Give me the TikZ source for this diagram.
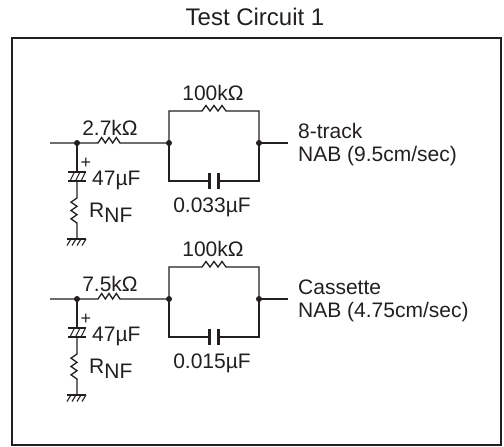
\documentclass[tikz,border=0pt]{standalone}
\usepackage{fontspec}
\setmainfont{Liberation Sans}
\definecolor{ink}{RGB}{35,31,32}
\tikzset{
  wire/.style={draw=ink, line width=1.3pt, line join=miter},
  plate/.style={draw=ink, line width=2.4pt},
  hatch/.style={draw=ink, line width=1.1pt},
  dotnode/.style={circle, fill=ink, inner sep=0pt, minimum size=6pt},
  lbl/.style={font=\fontsize{21}{25}\selectfont, text=ink, inner sep=0pt, anchor=base},
  lbll/.style={lbl, anchor=base west},
  frame/.style={draw=ink, line width=1.5pt},
}
\newcommand{\tcircuit}[6]{%
\begin{scope}[yshift=-#2pt]
  \coordinate (#1in) at (50,143);
  \node[dotnode] (#1j) at (77,143) {};
  \coordinate (#1ra) at (98,143);
  \coordinate (#1rb) at (120,143);
  \node[dotnode] (#1L) at (169,143) {};
  \node[dotnode] (#1R) at (259,143) {};
  \coordinate (#1out) at (288,143);
  \coordinate (#1fa) at (202,111);
  \coordinate (#1fb) at (226,111);
  \coordinate (#1ca) at (209.5,181);
  \coordinate (#1cb) at (218.5,181);
  \coordinate (#1pa) at (77,172);
  \coordinate (#1pb) at (77,181);
  \coordinate (#1na) at (77,198);
  \coordinate (#1nb) at (77,223);
  \coordinate (#1g) at (77,239);
  % input and series resistor
  \draw[wire] (#1in) -- (#1j.center) -- (#1ra)
     -- ++(3.67,-5.5) -- ++(3.67,5.5) -- ++(3.67,-5.5) -- ++(3.67,5.5) -- ++(3.67,-5.5) -- (#1rb)
     -- (#1L.center);
  % parallel network
  \draw[wire] (#1L.center) |- (#1fa)
     -- ++(4,-5.5) -- ++(4,5.5) -- ++(4,-5.5) -- ++(4,5.5) -- ++(4,-5.5) -- (#1fb)
     -| (#1R.center);
  \draw[wire] (#1L.center) |- (#1ca);
  \draw[wire] (#1cb) -| (#1R.center);
  \draw[plate] ([yshift=8pt]#1ca) -- ([yshift=-8pt]#1ca);
  \draw[plate] ([yshift=8pt]#1cb) -- ([yshift=-8pt]#1cb);
  \draw[wire] (#1R.center) -- (#1out);
  % shunt branch
  \draw[wire] (#1j.center) -- (#1pa);
  \draw[plate, line width=2pt] ([xshift=-9pt]#1pa) -- ([xshift=9pt]#1pa);
  \draw[plate, line width=2pt] ([xshift=-9pt]#1pb) -- ([xshift=9pt]#1pb);
  \draw[hatch] ([xshift=-7pt]#1pb) -- ([xshift=-2.5pt]#1pa);
  \draw[hatch] ([xshift=-1.5pt]#1pb) -- ([xshift=3pt]#1pa);
  \draw[hatch] ([xshift=4pt]#1pb) -- ([xshift=8.5pt]#1pa);
  \draw[wire] (#1pb) -- (#1na)
     -- ++(-6,4.17) -- ++(6,4.17) -- ++(-6,4.17) -- ++(6,4.17) -- ++(-6,4.17) -- (#1nb)
     -- (#1g);
  \draw[plate, line width=2.2pt] ([xshift=-10pt]#1g) -- ([xshift=9pt]#1g);
  \foreach \k in {-6,-1,4,9} {\draw[hatch] ([xshift=\k pt]#1g) -- ++(-4,6.5);}
  % labels
  \node[lbl] (#1lr) at (110,135) {#3kΩ};
  \node[lbl] (#1lf) at (213,100) {100kΩ};
  \node[lbl] (#1lc) at (212,212) {#4µF};
  \node[lbll] (#1le) at (92,185) {47µF};
  \node[lbl, font=\fontsize{18}{20}\selectfont] (#1lp) at (86,168) {+};
  \node[lbll] (#1ln) at (89,217) {R\raisebox{-5pt}{NF}};
  \node[lbll] (#1la) at (298,138) {#5};
  \node[lbll] (#1lb) at (298,161) {#6};
\end{scope}}
\begin{document}
\begin{tikzpicture}[x=1pt, y=-1pt]
  \useasboundingbox (0,0) rectangle (504,447);
  \node[lbl, font=\fontsize{24}{28}\selectfont] (title) at (255,26) {Test Circuit 1};
  \draw[frame] (12,38) rectangle (501,445);
  \tcircuit{a}{0}{2.7}{0.033}{8-track}{NAB (9.5cm/sec)}
  \tcircuit{b}{156}{7.5}{0.015}{Cassette}{NAB (4.75cm/sec)}
\end{tikzpicture}
\end{document}
